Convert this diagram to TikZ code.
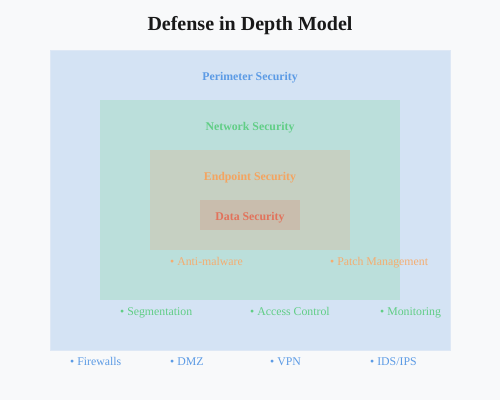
\documentclass[tikz,border=0pt]{standalone}
\usepackage{fontspec}
\setmainfont{Liberation Serif}
\definecolor{bgc}{HTML}{F8F9FA}
\definecolor{perim}{HTML}{D4E3F4}
\definecolor{perimedge}{HTML}{DEE8F5}
\definecolor{netf}{HTML}{BBDFDB}
\definecolor{endf}{HTML}{C6D0C2}
\definecolor{dataf}{HTML}{C9BDAD}
\definecolor{blueT}{HTML}{4A90E2}
\definecolor{greenT}{HTML}{50C878}
\definecolor{orangeT}{HTML}{F4A460}
\definecolor{redT}{HTML}{E2725B}
\begin{document}
\begin{tikzpicture}[x=1pt,y=-1pt,
  lbl/.style={anchor=base, font=\fontsize{11.8}{14}\selectfont\bfseries, inner sep=0pt},
  item/.style={anchor=base west, font=\fontsize{11.8}{14}\selectfont, inner sep=0pt}]
\fill[bgc] (0,0) rectangle (500,400);
\useasboundingbox (0,0) rectangle (500,400);
\node[anchor=base, font=\fontsize{20}{24}\selectfont\bfseries, text=black!90] (title) at (250,30) {Defense in Depth Model};
\draw[fill=perim, draw=perimedge, line width=1pt] (50,50) rectangle (450,350);
\fill[netf] (100,100) rectangle (400,300);
\fill[endf] (150,150) rectangle (350,250);
\fill[dataf] (200,200) rectangle (300,230);
\node[lbl, text=blueT!90] (perimL) at (250,80) {Perimeter Security};
\node[lbl, text=greenT!90] (netL) at (250,130) {Network Security};
\node[lbl, text=orangeT] (endL) at (250,180) {Endpoint Security};
\node[lbl, text=redT] (dataL) at (250,220) {Data Security};
\node[item, text=orangeT!90] (am) at (170,265) {• Anti-malware};
\node[item, text=orangeT!90] (pm) at (330,265) {• Patch Management};
\node[item, text=greenT!90] (seg) at (120,315) {• Segmentation};
\node[item, text=greenT!90] (ac) at (250,315) {• Access Control};
\node[item, text=greenT!90] (mon) at (380,315) {• Monitoring};
\node[item, text=blueT!90] (fw) at (70,365) {• Firewalls};
\node[item, text=blueT!90] (dmz) at (170,365) {• DMZ};
\node[item, text=blueT!90] (vpn) at (270,365) {• VPN};
\node[item, text=blueT!90] (ids) at (370,365) {• IDS/IPS};
\end{tikzpicture}
\end{document}
